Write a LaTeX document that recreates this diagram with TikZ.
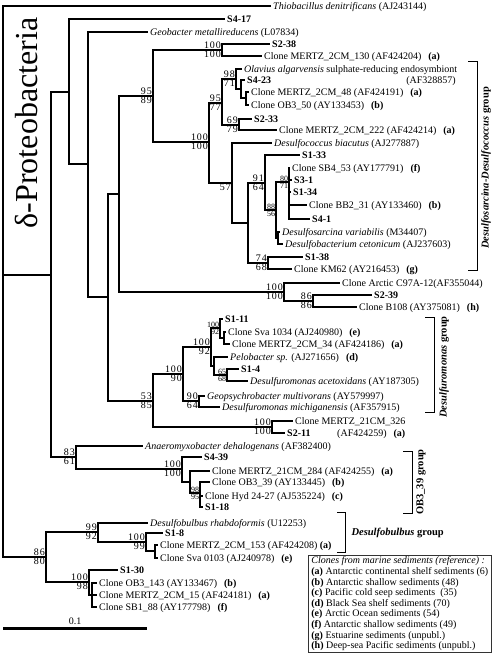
\documentclass[tikz,border=0pt]{standalone}
\usepackage{fontspec}
\setmainfont{Liberation Serif}
\newfontfamily\bootfont[LetterSpace=9]{Liberation Serif}
\usepackage{tikz}
\newcommand{\clonesrc}[1]{\hspace{7pt}\textbf{(#1)}}

\tikzset{
  branch/.style={line width=1.5pt},
  leaf/.style={anchor=west, inner xsep=2pt, inner ysep=0pt, text height=6.6pt, text depth=0pt, font=\fontsize{10}{12}\selectfont},
  boot/.style={inner sep=1pt, font=\bootfont\fontsize{10}{10}\selectfont},
  smallboot/.style={inner sep=0.6pt, font=\fontsize{8}{8}\selectfont},
  bracket/.style={line width=0.8pt},
  grouplab/.style={font=\bfseries\fontsize{10.5}{12}\selectfont},
}

\begin{document}
\begin{tikzpicture}[x=1pt, y=-1pt]
    \useasboundingbox (0,0) rectangle (496,655);

    % inner nodes of the tree
    \foreach \n/\x/\y in {root/3/275, D/51/275, A1/69/92, A2/88/164, A3/108/297, A4/119/194,
        A5/153/96, A6/222/50, A7/209/142, A8/222/103, A10/236/79, A12/241/89, A13/246/98,
        A11/239/125, A9/232/183, A14/248/223, A15/265/183, A17/276/210, A18/289/182,
        A19/278/238, A16/268/263, AR/284/292, AR2/313/301, P1/153/401, P2/183/374,
        P4/211/347, P6/220/328, P8/224/338, P7/214/366, P9/227/375, P5/199/401, P3/272/427,
        AN/76/457, G/182/469, H/190/482, I/200/493, B/46/557, B1/98/532, B3/146/542,
        B4/155/551, B2/89/582, B5/92/595}
        \coordinate (\n) at (\x,\y);

    % leaves
    \foreach \n/\x/\y/\t in {
        thio/271/6/{\textit{Thiobacillus denitrificans} (AJ243144)},
        s417/225/19/{\textbf{S4-17}},
        geob/148/32/{\textit{Geobacter metallireducens} (L07834)},
        s238/270/44/{\textbf{S2-38}},
        m130/262/56/{Clone MERTZ\_2CM\_130 (AF424204)\clonesrc{a}},
        olav/242/69/{\textit{Olavius algarvensis} sulphate-reducing endosymbiont},
        s423/245/80/{\textbf{S4-23}},
        m48/249/92/{Clone MERTZ\_2CM\_48 (AF424191)\clonesrc{a}},
        ob350/249/105/{Clone OB3\_50 (AY133453)\clonesrc{b}},
        s233/252/119/{\textbf{S2-33}},
        m222/277/130/{Clone MERTZ\_2CM\_222 (AF424214)\clonesrc{a}},
        dbiac/272/143/{\textit{Desulfococcus biacutus} (AJ277887)},
        s133/300/155/{\textbf{S1-33}},
        sb453/290/168/{Clone SB4\_53 (AY177791)\clonesrc{f}},
        s31/292/180/{\textbf{S3-1}},
        s134/291/192/{\textbf{S1-34}},
        bb231/307/205/{Clone BB2\_31 (AY133460)\clonesrc{b}},
        s41/310/219/{\textbf{S4-1}},
        dvar/280/232/{\textit{Desulfosarcina variabilis} (M34407)},
        dcet/283/244/{\textit{Desulfobacterium cetonicum} (AJ237603)},
        s138/303/257/{\textbf{S1-38}},
        km62/292/269/{Clone KM62 (AY216453)\clonesrc{g}},
        arctic/340/283/{Clone Arctic C97A-12(AF355044)},
        s239/372/295/{\textbf{S2-39}},
        b108/357/307/{Clone B108 (AY375081)\clonesrc{h}},
        s111/223/319/{\textbf{S1-11}},
        sva1034/226/332/{Clone Sva 1034 (AJ240980)\clonesrc{e}},
        m34/230/344/{Clone MERTZ\_2CM\_34 (AF424186)\clonesrc{a}},
        pelo/228/357/{\textit{Pelobacter sp.} (AJ271656)\clonesrc{d}},
        s14/239/369/{\textbf{S1-4}},
        dacet/248/381/{\textit{Desulfuromonas acetoxidans} (AY187305)},
        geops/205/396/{\textit{Geopsychrobacter multivorans} (AY579997)},
        dmich/220/407/{\textit{Desulfuromonas michiganensis} (AF357915)},
        m326/293/421/{Clone MERTZ\_21CM\_326},
        s211/285/433/{\textbf{S2-11}},
        anaero/143/446/{\textit{Anaeromyxobacter dehalogenans} (AF382400)},
        s439/202/457/{\textbf{S4-39}},
        m284/210/471/{Clone MERTZ\_21CM\_284 (AF424255)\clonesrc{a}},
        ob339/210/482/{Clone OB3\_39 (AY133445)\clonesrc{b}},
        hyd/203/496/{Clone Hyd 24-27 (AJ535224)\clonesrc{c}},
        s118/203/507/{\textbf{S1-18}},
        drhab/148/523/{\textit{Desulfobulbus rhabdoformis} (U12253)},
        s18/163/533/{\textbf{S1-8}},
        m153/158/545/{Clone MERTZ\_2CM\_153 (AF424208) \textbf{(a)}},
        sva0103/158/558/{Clone Sva 0103 (AJ240978)\clonesrc{e}},
        s130/118/570/{\textbf{S1-30}},
        ob3143/97/583/{Clone OB3\_143 (AY133467)\clonesrc{b}},
        m15/97/595/{Clone MERTZ\_2CM\_15 (AF424181)\clonesrc{a}},
        sb188/97/607/{Clone SB1\_88 (AY177798)\clonesrc{f}}}
        \node[leaf] (\n) at (\x,\y) {\t};
    \node[leaf, anchor=east] (olavacc) at (458,80) {(AF328857)};
    \node[leaf] (m326acc) at (335,433) {(AF424259)\clonesrc{a}};

    % branches
    \foreach \p/\c in {root/D, root/B, D/A1, D/AN, A1/A2, A2/A3, A3/A4, A3/P1, A4/A5, A4/AR,
        A5/A6, A5/A7, A7/A8, A7/A9, A8/A10, A8/A11, A10/A12, A12/A13, A9/A14, A14/A15,
        A14/A16, A15/A17, A17/A18, A17/A19, AR/AR2, P1/P2, P1/P3, P2/P4, P2/P5, P4/P6,
        P4/P7, P6/P8, P7/P9, AN/G, G/H, H/I, B/B1, B/B2, B1/B3, B3/B4, B2/B5}
        \draw[branch] (\p) |- (\c);
    \foreach \p/\c in {root/thio, A1/s417, A2/geob, A6/s238, A6/m130, A10/olav, A12/s423,
        A13/m48, A13/ob350, A11/s233, A11/m222, A9/dbiac, A15/s133, A18/sb453, A18/s31,
        A18/s134, A18/bb231, A18/s41, A19/dvar, A19/dcet, A16/s138, A16/km62, AR/arctic,
        AR2/s239, AR2/b108, P6/s111, P8/sva1034, P8/m34, P7/pelo, P9/s14, P9/dacet,
        P5/geops, P5/dmich, P3/m326, P3/s211, AN/anaero, G/s439, H/m284, I/ob339, I/hyd,
        I/s118, B1/drhab, B3/s18, B4/m153, B4/sva0103, B2/s130, B5/ob3143, B5/m15, B5/sb188}
        \draw[branch] (\p) |- (\c.west);

    % bootstrap values
    \foreach \n/\u/\l in {A5/95/89, A6/100/100, A7/100/100, A8/95/77, A10/98/71, A11/69/79,
        A15/91/64, A16/74/68, AR/100/100, AR2/86/86, P1/53/85, P2/100/90, P4/100/92,
        P5/90/64, P3/100/100, AN/83/61, G/100/100, B/86/80, B1/99/92, B3/100/99, B2/100/98} {
        \node[boot, above left] (\n-up) at (\n) {\u};
        \node[boot, below left] (\n-lo) at (\n) {\l};
    }
    \foreach \n/\u/\l in {A17/88/56, A18/80/71, P6/100/92, P9/65/68, I/98/95} {
        \node[smallboot, above left] (\n-up) at (\n) {\u};
        \node[smallboot, below left] (\n-lo) at (\n) {\l};
    }
    \node[boot, below left] (A9-lo) at (A9) {57};

    % class label
    \node[rotate=90, anchor=base, inner sep=0pt, font=\fontsize{32}{32}\selectfont] (delta) at (37,123) {δ-Proteobacteria};

    % groups
    \draw[bracket] (468,61) -| (477,270) -- (468,270);
    \node[grouplab, rotate=90] (ddgroup) at (486,168) {\textit{Desulfosarcina-Desulfococcus} group};
    \draw[bracket] (425,317) -| (434,412) -- (425,412);
    \node[grouplab, rotate=90] (dmgroup) at (444,367) {\textit{Desulfuromonas} group};
    \draw[bracket] (403,451) -| (412,513) -- (403,513);
    \node[grouplab, rotate=90] (obgroup) at (421,482) {OB3\_39 group};
    \draw[bracket] (337,512) -| (345,552) -- (337,552);
    \node[grouplab, anchor=west] (dbgroup) at (348,533) {\textit{Desulfobulbus} group};

    % scale bar
    \coordinate (scl) at (3,628);
    \coordinate (scr) at (147,628);
    \draw[line width=3pt] (scl) -- node[above=1.5pt, inner sep=0pt, font=\fontsize{10}{10}\selectfont] (sclab) {0.1} (scr);

    % legend
    \node[draw=black!80, line width=0.8pt, anchor=north west, align=left,
          inner xsep=3pt, inner ysep=1.5pt, font=\fontsize{10}{10.6}\selectfont] (legend) at (308,555) {%
        \textit{Clones from marine sediments (reference) :}\\
        \textbf{(a)} Antarctic continental shelf sediments (6)\\
        \textbf{(b)} Antarctic shallow sediments (48)\\
        \textbf{(c)} Pacific cold seep sediments\ \ (35)\\
        \textbf{(d)} Black Sea shelf sediments (70)\\
        \textbf{(e)} Arctic Ocean sediments (54)\\
        \textbf{(f)} Antarctic shallow sediments (49)\\
        \textbf{(g)} Estuarine sediments (unpubl.)\\
        \textbf{(h)} Deep-sea Pacific sediments (unpubl.)};
\end{tikzpicture}
\end{document}
